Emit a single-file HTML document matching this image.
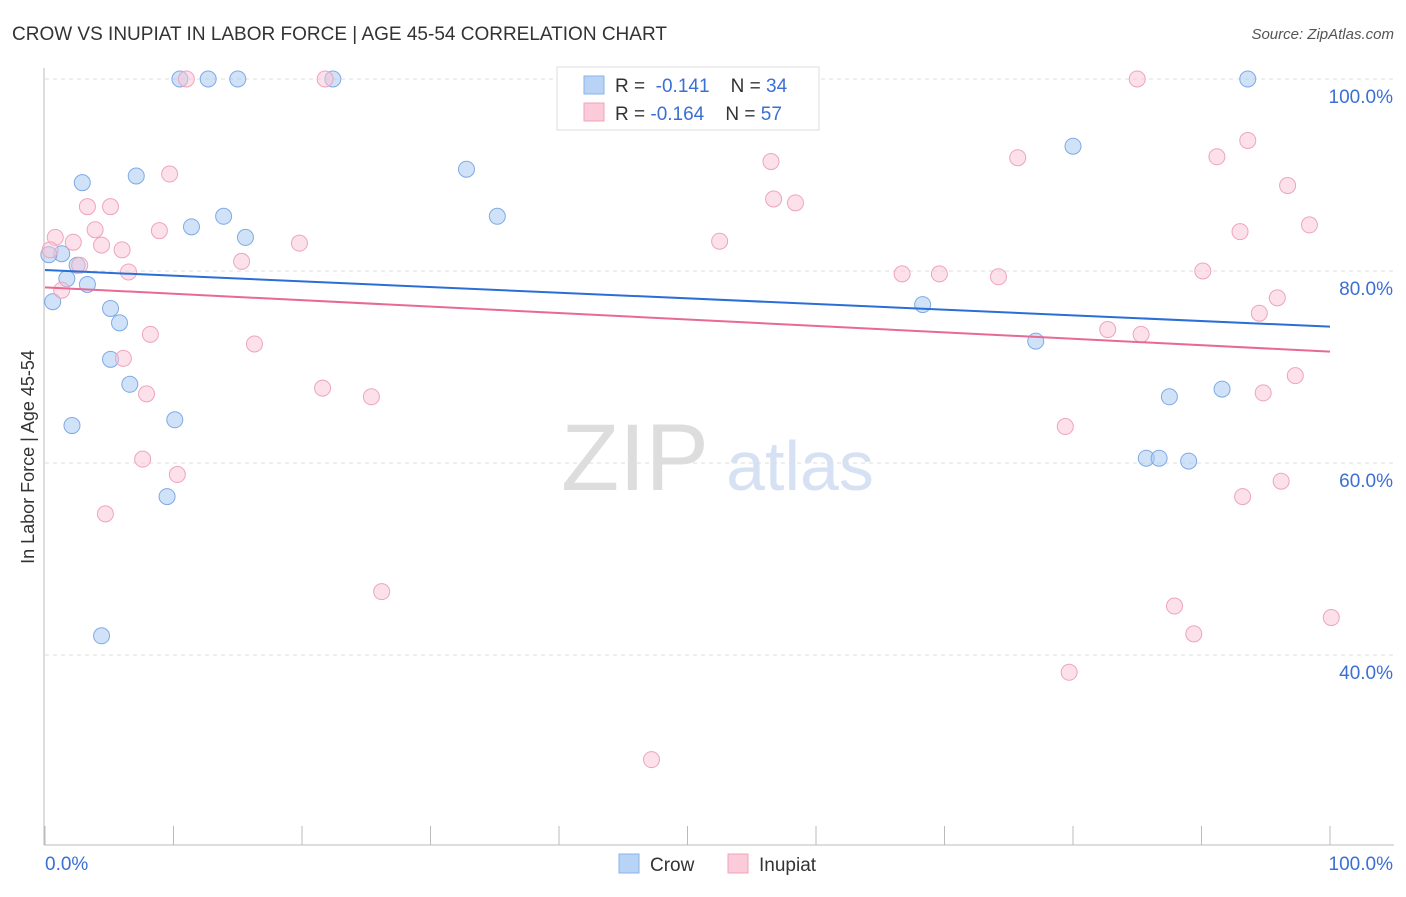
<!DOCTYPE html>
<html><head><meta charset="utf-8"><style>
body{margin:0;background:#fff;font-family:"Liberation Sans",sans-serif;}
svg text{font-family:"Liberation Sans",sans-serif;}
</style></head><body>
<svg width="1406" height="892" xmlns="http://www.w3.org/2000/svg">
<text x="12" y="40" font-size="19" fill="#333">CROW VS INUPIAT IN LABOR FORCE | AGE 45-54 CORRELATION CHART</text>
<text x="1394" y="39" font-size="15" fill="#555" font-style="italic" text-anchor="end">Source: ZipAtlas.com</text>
<g>
<text x="635" y="490" font-size="95" fill="#ddd" text-anchor="middle" font-family="Liberation Serif">ZIP</text>
<text x="800" y="490" font-size="70" fill="#d6e2f4" text-anchor="middle">atlas</text>
</g>
<g id="grid"></g>
<g id="axes"></g>
<g id="marks"></g>
<text transform="translate(34,457) rotate(-90)" font-size="18" fill="#333" text-anchor="middle">In Labor Force | Age 45-54</text>
<g>
<rect x="557" y="67" width="262" height="63" fill="#fff" stroke="#ddd"/>
<rect x="584" y="76" width="20" height="18" fill="#b8d3f5" stroke="#8ab4e8"/>
<rect x="584" y="103" width="20" height="18" fill="#fbcbd9" stroke="#f0a0bc"/>
<text x="615" y="92" font-size="19" fill="#333" xml:space="preserve">R =  <tspan fill="#3b6fd4">-0.141</tspan>    N = <tspan fill="#3b6fd4">34</tspan></text>
<text x="615" y="120" font-size="19" fill="#333" xml:space="preserve">R = <tspan fill="#3b6fd4">-0.164</tspan>    N = <tspan fill="#3b6fd4">57</tspan></text>
</g>
<g>
<rect x="619" y="854" width="20" height="19" fill="#b8d3f5" stroke="#8ab4e8"/>
<text x="650" y="871" font-size="19" fill="#333">Crow</text>
<rect x="728" y="854" width="20" height="19" fill="#fbcbd9" stroke="#f0a0bc"/>
<text x="759" y="871" font-size="19" fill="#333">Inupiat</text>
</g>
</svg>
<script>
const yTicks=[100,80,60,40];
const yTickLabels=["100.0%","80.0%","60.0%","40.0%"];
const crowX=[10.5,12.7,15,22.4,93.6,80,2.9,7.1,32.8,35.2,13.9,11.4,15.6,1.3,1.7,3.3,0.6,5.1,5.8,5.1,6.6,2.1,10.1,9.5,4.4,68.3,77.1,87.5,91.6,85.7,86.7,89,0.3,2.5];
const crowY=[100,100,100,100,100,93.0,89.2,89.9,90.6,85.7,85.7,84.6,83.5,81.8,79.2,78.6,76.8,76.1,74.6,70.8,68.2,63.9,64.5,56.5,42.0,76.5,72.7,66.9,67.7,60.5,60.5,60.2,81.7,80.6];
const inuX=[11,21.8,85,93.6,91.2,75.7,56.5,9.7,96.7,56.7,58.4,3.3,5.1,8.9,98.4,93,3.9,0.8,2.2,4.4,6,52.5,19.8,15.3,2.7,6.5,90.1,66.7,69.6,74.2,1.3,95.9,94.5,82.7,85.3,8.2,16.3,6.1,21.6,7.9,25.4,97.3,94.8,79.4,7.6,10.3,96.2,93.2,4.7,26.2,87.9,89.4,100.1,79.7,47.2,0.4];
const inuY=[100,100,100,93.6,91.9,91.8,91.4,90.1,88.9,87.5,87.1,86.7,86.7,84.2,84.8,84.1,84.3,83.5,83.0,82.7,82.2,83.1,82.9,81.0,80.6,79.9,80.0,79.7,79.7,79.4,78.0,77.2,75.6,73.9,73.4,73.4,72.4,70.9,67.8,67.2,66.9,69.1,67.3,63.8,60.4,58.8,58.1,56.5,54.7,46.6,45.1,42.2,43.9,38.2,29.1,82.2];
const crowTrend=[80.1,74.2];
const inuTrend=[78.3,71.6];
const X=v=>45+v*12.85, Y=v=>79+(100-v)*9.6;
const NS="http://www.w3.org/2000/svg";
function mk(p,t,a){const e=document.createElementNS(NS,t);for(const k in a)e.setAttribute(k,a[k]);document.getElementById(p).appendChild(e);return e;}
yTicks.forEach((t,i)=>{
 const l=mk('grid','line',{x1:45,x2:1394,y1:Y(t),y2:Y(t),stroke:'#ddd','stroke-dasharray':'4,4'});
 
 
 const tx=mk('grid','text',{x:1393,y:Y(t)+24,'font-size':19,fill:'#3b6fd4','text-anchor':'end'});
 tx.textContent=yTickLabels[i];
 
 
});
let a=mk('axes','line',{x1:44,x2:44,y1:68,y2:845,stroke:'#bbb'});


a=mk('axes','line',{x1:44,x2:1394,y1:845,y2:845,stroke:'#bbb'});


for(let i=0;i<=10;i++){const t=mk('axes','line',{x1:X(i*10),x2:X(i*10),y1:826,y2:845,stroke:'#bbb'});
 
 }
let xl=mk('axes','text',{x:45,y:870,'font-size':19,fill:'#3b6fd4'});xl.textContent='0.0%';


xl=mk('axes','text',{x:1393,y:870,'font-size':19,fill:'#3b6fd4','text-anchor':'end'});xl.textContent='100.0%';


crowX.forEach((x,i)=>{const c=mk('marks','circle',{cx:X(x),cy:Y(crowY[i]),r:8,fill:'rgba(170,202,242,0.55)',stroke:'#7eaae6','stroke-width':1});
 
 });
inuX.forEach((x,i)=>{const c=mk('marks','circle',{cx:X(x),cy:Y(inuY[i]),r:8,fill:'rgba(250,196,214,0.5)',stroke:'#eea4bd','stroke-width':1});
 
 });
let tl=mk('marks','line',{x1:X(0),x2:X(100),y1:Y(crowTrend[0]),y2:Y(crowTrend[1]),stroke:'#2a6fd6','stroke-width':2});


tl=mk('marks','line',{x1:X(0),x2:X(100),y1:Y(inuTrend[0]),y2:Y(inuTrend[1]),stroke:'#e66a94','stroke-width':2});


</script>
</body></html>
